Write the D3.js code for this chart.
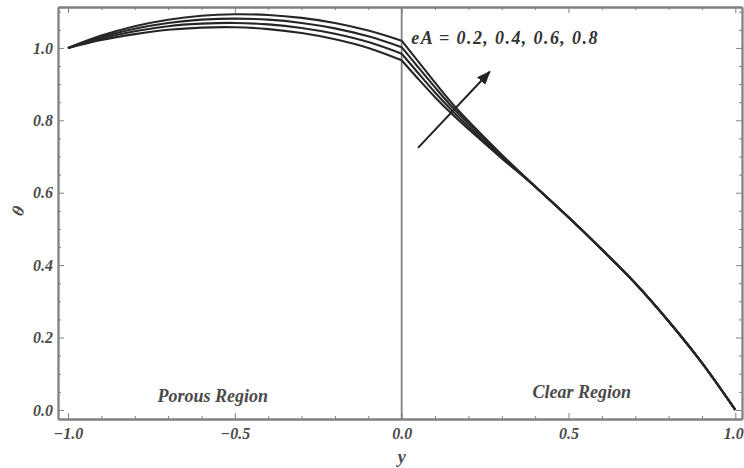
<!DOCTYPE html>
<html>
<head>
<meta charset="utf-8">
<script src="https://cdn.jsdelivr.net/npm/d3@7"></script>
<style>
  html, body { margin: 0; padding: 0; background: #fff; }
  svg { display: block; }
  .lbl { font-family: "Liberation Serif", "DejaVu Serif", serif; font-style: italic; font-weight: bold; }
</style>
</head>
<body>
<svg id="chart" width="744" height="468"></svg>
<script>
// Transverse coordinate y (porous region y < 0, clear region y > 0)
const yGrid = [-1, -0.9, -0.8, -0.7, -0.6, -0.5, -0.4, -0.3, -0.2, -0.1, 0,
               0.05, 0.1, 0.15, 0.2, 0.3, 0.4, 0.5, 0.6, 0.7, 0.8, 0.9, 1.0];

// Temperature profiles theta(y), one per eA value
const eAValues = [0.2, 0.4, 0.6, 0.8];
const theta02 = [1.000, 1.022, 1.038, 1.050, 1.056, 1.057, 1.052, 1.041, 1.024, 1.000, 0.966,
                 0.914, 0.864, 0.818, 0.776, 0.695, 0.617, 0.532, 0.443, 0.350, 0.245, 0.130, 0.000];
const theta04 = [1.000, 1.026, 1.046, 1.060, 1.067, 1.069, 1.065, 1.055, 1.039, 1.016, 0.984,
                 0.930, 0.877, 0.828, 0.783, 0.698, 0.617, 0.532, 0.443, 0.350, 0.245, 0.130, 0.000];
const theta06 = [1.000, 1.030, 1.053, 1.069, 1.078, 1.081, 1.078, 1.069, 1.054, 1.032, 1.002,
                 0.946, 0.891, 0.838, 0.791, 0.702, 0.617, 0.532, 0.443, 0.350, 0.245, 0.130, 0.000];
const theta08 = [1.000, 1.034, 1.060, 1.078, 1.089, 1.093, 1.091, 1.083, 1.069, 1.048, 1.020,
                 0.962, 0.904, 0.848, 0.798, 0.705, 0.617, 0.532, 0.443, 0.350, 0.245, 0.130, 0.000];

// Axis ticks and plot range
const xTicks = [-1.0, -0.5, 0.0, 0.5, 1.0];
const xTickLabels = ["\u22121.0", "\u22120.5", "0.0", "0.5", "1.0"];
const yTicks = [0.0, 0.2, 0.4, 0.6, 0.8, 1.0];
const yTickLabels = ["0.0", "0.2", "0.4", "0.6", "0.8", "1.0"];
const xPlotRange = [-1.03, 1.02];
const yPlotRange = [-0.025, 1.113];

// Annotation arrow (direction of increasing eA)
const arrowTail = [0.049, 0.724];
const arrowHead = [0.264, 0.934];

const svg = d3.select("#chart");
const x = d3.scaleLinear().domain(xPlotRange).range([58, 742]);
const y = d3.scaleLinear().domain(yPlotRange).range([419, 7]);

const frameColor = "#808080";
const textColor = "#4a4a4a";

// Frame ticks (inward, all four sides)
const xMinor = d3.range(-1, 1.0001, 0.1).filter(v => !xTicks.some(t => Math.abs(t - v) < 1e-6));
const yMinor = d3.range(0, 1.1001, 0.05).filter(v => !yTicks.some(t => Math.abs(t - v) < 1e-6));

const axB = d3.axisBottom(x).tickValues(xTicks).tickSizeInner(-6).tickSizeOuter(0).tickFormat((d, i) => xTickLabels[i]).tickPadding(9);
const axBm = d3.axisBottom(x).tickValues(xMinor).tickSizeInner(-3).tickSizeOuter(0).tickFormat("");
const axT = d3.axisTop(x).tickValues(xTicks).tickSizeInner(-6).tickSizeOuter(0).tickFormat("");
const axTm = d3.axisTop(x).tickValues(xMinor).tickSizeInner(-3).tickSizeOuter(0).tickFormat("");
const axL = d3.axisLeft(y).tickValues(yTicks).tickSizeInner(-6).tickSizeOuter(0).tickFormat((d, i) => yTickLabels[i]).tickPadding(5);
const axLm = d3.axisLeft(y).tickValues(yMinor).tickSizeInner(-3).tickSizeOuter(0).tickFormat("");
const axR = d3.axisRight(y).tickValues(yTicks).tickSizeInner(-6).tickSizeOuter(0).tickFormat("");
const axRm = d3.axisRight(y).tickValues(yMinor).tickSizeInner(-3).tickSizeOuter(0).tickFormat("");

const frameBottom = y.range()[0], frameTop = y.range()[1];
const frameLeft = x.range()[0], frameRight = x.range()[1];

function styleAxis(g) {
  g.selectAll("path").attr("stroke", frameColor).attr("stroke-width", 1.8);
  g.selectAll("line").attr("stroke", frameColor).attr("stroke-width", 1);
  g.selectAll("text").attr("class", "lbl").attr("fill", textColor).attr("font-size", 16);
}

const axes = {};
[["bottom", axB, `translate(0,${frameBottom})`], ["bottomMinor", axBm, `translate(0,${frameBottom})`],
 ["top", axT, `translate(0,${frameTop})`], ["topMinor", axTm, `translate(0,${frameTop})`],
 ["left", axL, `translate(${frameLeft},0)`], ["leftMinor", axLm, `translate(${frameLeft},0)`],
 ["right", axR, `translate(${frameRight},0)`], ["rightMinor", axRm, `translate(${frameRight},0)`]].forEach(([name, ax, tr]) => {
  axes[name] = svg.append("g").attr("transform", tr).call(ax).call(styleAxis);
});

// Keep the last bottom label inside the page edge
axes.bottom.selectAll("g.tick text")
  .filter(d => d === xTicks[xTicks.length - 1])
  .attr("text-anchor", "end").attr("dx", 8);

// Interface between porous and clear regions
svg.append("line")
  .attr("x1", x(0)).attr("x2", x(0))
  .attr("y1", y(yPlotRange[0])).attr("y2", y(yPlotRange[1]))
  .attr("stroke", frameColor).attr("stroke-width", 1.8);

// Profiles: porous and clear parts drawn separately to keep the interface kink
const series = [theta02, theta04, theta06, theta08];
const line = d3.line().x(d => x(d[0])).y(d => y(d[1])).curve(d3.curveCatmullRom.alpha(0.5));
series.forEach((vals) => {
  const pts = yGrid.map((g, i) => [g, vals[i]]);
  const porous = pts.filter(p => p[0] <= 0);
  const clear = pts.filter(p => p[0] >= 0);
  [porous, clear].forEach(seg => {
    svg.append("path")
      .attr("d", line(seg))
      .attr("fill", "none")
      .attr("stroke", "#262626")
      .attr("stroke-width", 2.1)
      .attr("stroke-linejoin", "round");
  });
});

// Arrow
svg.append("defs").append("marker")
  .attr("id", "head")
  .attr("viewBox", "0 0 10 10")
  .attr("refX", 9).attr("refY", 5)
  .attr("markerWidth", 7).attr("markerHeight", 7)
  .attr("markerUnits", "strokeWidth")
  .attr("orient", "auto")
  .append("path").attr("d", "M0,1 L10,5 L0,9 Z").attr("fill", "#222");

svg.append("line")
  .attr("x1", x(arrowTail[0])).attr("y1", y(arrowTail[1]))
  .attr("x2", x(arrowHead[0])).attr("y2", y(arrowHead[1]))
  .attr("stroke", "#222").attr("stroke-width", 2)
  .attr("marker-end", "url(#head)");

// Texts
svg.append("text").attr("class", "lbl")
  .attr("x", x(0.31)).attr("y", y(1.028)).attr("dy", "0.35em")
  .attr("text-anchor", "middle").attr("font-size", 18).attr("letter-spacing", 1.4)
  .attr("fill", "#333")
  .text(`eA = ${eAValues.join(", ")}`);

svg.append("text").attr("class", "lbl")
  .attr("x", x(-0.566)).attr("y", y(0.04)).attr("dy", "0.35em")
  .attr("text-anchor", "middle").attr("font-size", 18).attr("fill", textColor)
  .text("Porous Region");

svg.append("text").attr("class", "lbl")
  .attr("x", x(0.54)).attr("y", y(0.05)).attr("dy", "0.35em")
  .attr("text-anchor", "middle").attr("font-size", 18).attr("fill", textColor)
  .text("Clear Region");

svg.append("text").attr("class", "lbl")
  .attr("x", x(0)).attr("y", 457).attr("dy", "0.35em")
  .attr("text-anchor", "middle").attr("font-size", 18).attr("fill", textColor)
  .text("y");

svg.append("text").attr("class", "lbl")
  .attr("transform", `translate(18,${y(0.55)}) rotate(-70)`)
  .attr("dy", "0.35em")
  .attr("text-anchor", "middle").attr("font-size", 17).attr("fill", textColor)
  .text("\u03b8");
</script>
</body>
</html>
